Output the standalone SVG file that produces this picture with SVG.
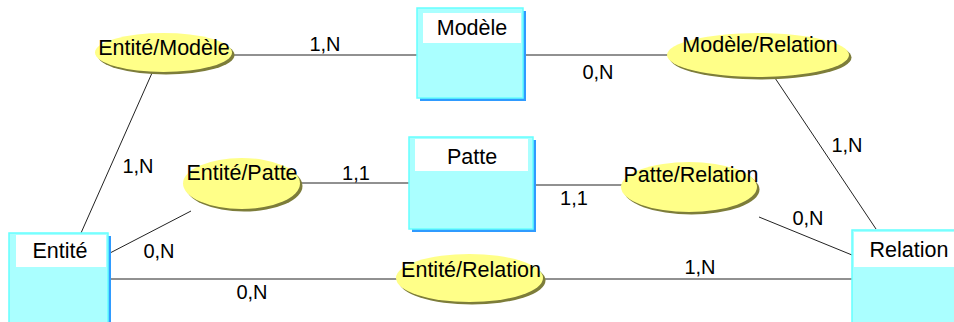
<svg xmlns="http://www.w3.org/2000/svg" width="954" height="322" viewBox="0 0 954 322">
<style>
.bg{fill:#ffffff}
.box{fill:#aaffff;stroke:#66ffff;stroke-width:1.5}
.bsh{fill:#2f9bff}
.hdr{fill:#ffffff}
.ell{fill:#ffff88}
.esh{fill:#7d7d3a}
.t{font-family:"Liberation Sans",Arial,sans-serif;font-size:21.5px;fill:#000;text-anchor:middle}
.lbl{font-family:"Liberation Sans",Arial,sans-serif;font-size:20px;fill:#000;text-anchor:middle}
.ln{stroke:#222;stroke-width:1;fill:none}
.gap{fill:#ffffff}
</style>
<rect class="bg" x="0" y="0" width="954" height="322"/>
<g id="connectors">
<line class="ln" x1="232" y1="55" x2="417" y2="55"/>
<line class="ln" x1="524" y1="55" x2="668" y2="55"/>
<line class="ln" x1="152" y1="73" x2="81" y2="233"/>
<line class="ln" x1="775" y1="78" x2="876" y2="229"/>
<line class="ln" x1="300" y1="183" x2="409" y2="183"/>
<line class="ln" x1="533" y1="185" x2="622" y2="185"/>
<line class="ln" x1="191" y1="211" x2="110" y2="253"/>
<line class="ln" x1="759" y1="217" x2="852" y2="255"/>
<line class="ln" x1="110" y1="279" x2="397" y2="279"/>
<line class="ln" x1="543" y1="279" x2="852" y2="279"/>
<rect class="gap" x="557" y="186" width="36" height="24"/>
<rect class="gap" x="234" y="280" width="39" height="24"/>
<text class="lbl" x="325" y="51">1,N</text>
<text class="lbl" x="598" y="79">0,N</text>
<text class="lbl" x="138" y="173">1,N</text>
<text class="lbl" x="847" y="152">1,N</text>
<text class="lbl" x="356" y="180">1,1</text>
<text class="lbl" x="574" y="205">1,1</text>
<text class="lbl" x="159" y="258">0,N</text>
<text class="lbl" x="808" y="225">0,N</text>
<text class="lbl" x="252" y="299">0,N</text>
<text class="lbl" x="700" y="274">1,N</text>
</g>
<g id="modele">
<rect class="bsh" x="420" y="11" width="106" height="90"/>
<rect class="box" x="417" y="8" width="106" height="90"/>
<rect class="hdr" x="423" y="13" width="98" height="30"/>
<text class="t" x="472" y="35">Modèle</text>
</g>
<g id="patte">
<rect class="bsh" x="412" y="140" width="124" height="92"/>
<rect class="box" x="409" y="137" width="124" height="92"/>
<rect class="hdr" x="415" y="139" width="113" height="32"/>
<text class="t" x="472" y="164">Patte</text>
</g>
<g id="entite">
<rect class="bsh" x="12" y="236" width="99" height="100"/>
<rect class="box" x="9" y="233" width="99" height="100"/>
<rect class="hdr" x="16" y="235" width="90" height="32"/>
<text class="t" x="60" y="258">Entité</text>
</g>
<g id="relation">
<rect class="box" x="852" y="230" width="120" height="100"/>
<rect class="hdr" x="854" y="232" width="100" height="35"/>
<text class="t" x="909" y="257">Relation</text>
</g>
<g id="entite-modele">
<ellipse class="esh" cx="166" cy="55" rx="68.5" ry="19.5"/>
<ellipse class="ell" cx="163.5" cy="52.5" rx="68.5" ry="19.5"/>
<text class="t" x="164" y="55">Entité/Modèle</text>
</g>
<g id="modele-relation">
<ellipse class="esh" cx="760.5" cy="57.5" rx="91" ry="22"/>
<ellipse class="ell" cx="758" cy="55" rx="91" ry="22"/>
<text class="t" x="760" y="52">Modèle/Relation</text>
</g>
<g id="entite-patte">
<ellipse class="esh" cx="244" cy="186" rx="58.5" ry="25.5"/>
<ellipse class="ell" cx="241.5" cy="183.5" rx="58.5" ry="25.5"/>
<text class="t" x="242" y="180">Entité/Patte</text>
</g>
<g id="patte-relation">
<ellipse class="esh" cx="691.5" cy="189.5" rx="68" ry="25"/>
<ellipse class="ell" cx="689" cy="187" rx="68" ry="25"/>
<text class="t" x="691" y="182">Patte/Relation</text>
</g>
<g id="entite-relation">
<ellipse class="esh" cx="472" cy="280.5" rx="73.5" ry="24"/>
<ellipse class="ell" cx="469.5" cy="278" rx="73.5" ry="24"/>
<text class="t" x="471" y="277">Entité/Relation</text>
</g>
</svg>
